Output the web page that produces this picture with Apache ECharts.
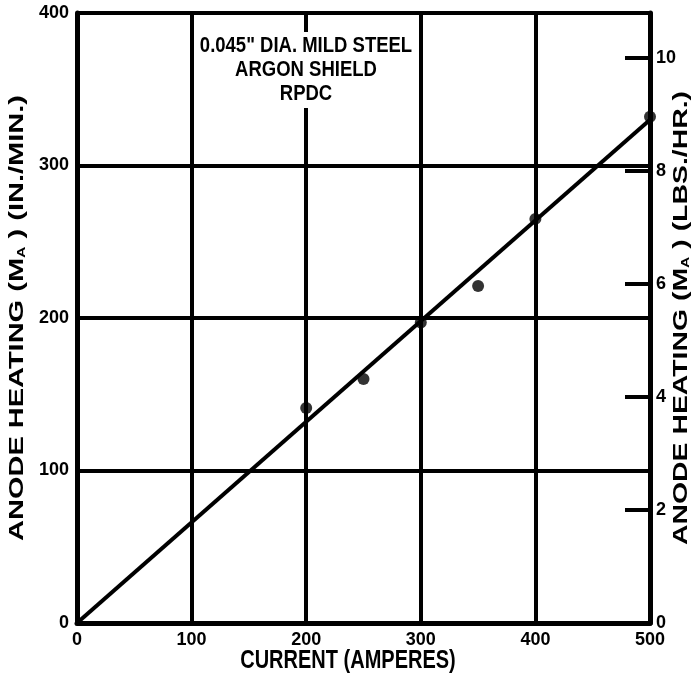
<!DOCTYPE html>
<html>
<head>
<meta charset="utf-8">
<script src="https://cdn.jsdelivr.net/npm/echarts@6/dist/echarts.min.js"></script>
<style>
  html, body { margin: 0; padding: 0; background: #fff; }
  #chart { width: 693px; height: 676px; }
</style>
</head>
<body>
<div id="chart"></div>
<script>
// Measured anode heating vs. welding current
const currentAmps = [200, 250, 300, 350, 400, 500];
const heatingInPerMin = [141, 160, 197, 221, 265, 332];

// Fitted straight line through the origin
const fitCurrent = [0, 500];
const fitHeating = [0, 330];

// Axis ticks
const xTicks = [0, 100, 200, 300, 400, 500];
const leftTicks = [0, 100, 200, 300, 400];
const rightTickMarks = [2, 4, 6, 8, 10];
const rightTickLabels = [0, 2, 4, 6, 8, 10];

// Axis titles and the note in the upper part of the plot
const xTitle = 'CURRENT (AMPERES)';
const leftTitle = 'ANODE HEATING (M{sub|A} ) (IN./MIN.)';
const rightTitle = 'ANODE HEATING (M{sub|A} ) (LBS./HR.)';
const noteLines = ['0.045" DIA. MILD STEEL', 'ARGON SHIELD', 'RPDC'];

const FONT = '"Liberation Sans", Arial, sans-serif';
const INK = '#000';

const W = 693, H = 676;
const GRID = { left: 77, right: 43, top: 13, bottom: 53 };
const plotTop = GRID.top, plotBottom = H - GRID.bottom;
const plotMidY = (plotTop + plotBottom) / 2;

const titleFont = { fontFamily: FONT, fontWeight: 'bold', fontSize: 20, fill: INK };
const subRich = { sub: { fontFamily: FONT, fontWeight: 'bold', fontSize: 11, fill: INK, padding: [10, 0, 0, 0] } };
const tickFont = { fontFamily: FONT, fontWeight: 'bold', fontSize: 18, color: INK };

const chart = echarts.init(document.getElementById('chart'), null, { renderer: 'canvas' });

const option = {
  backgroundColor: '#fff',
  animation: false,
  grid: Object.assign({ containLabel: false }, GRID),
  xAxis: {
    type: 'value',
    min: xTicks[0],
    max: xTicks[xTicks.length - 1],
    interval: 100,
    axisLine: { show: true, lineStyle: { color: INK, width: 5 } },
    axisTick: { show: false },
    axisLabel: Object.assign({ margin: 8 }, tickFont),
    splitLine: { show: true, lineStyle: { color: INK, width: 4 } }
  },
  yAxis: [
    {
      type: 'value',
      min: leftTicks[0],
      max: leftTicks[leftTicks.length - 1],
      interval: 100,
      position: 'left',
      axisLine: { show: true, lineStyle: { color: INK, width: 5 } },
      axisTick: { show: false },
      axisLabel: Object.assign({ margin: 8 }, tickFont),
      splitLine: { show: true, lineStyle: { color: INK, width: 4 } }
    },
    {
      type: 'value',
      min: 0,
      max: 10.8,
      position: 'right',
      axisLine: { show: true, lineStyle: { color: INK, width: 5 } },
      axisTick: {
        show: true, inside: true, length: 25,
        customValues: rightTickMarks,
        lineStyle: { color: INK, width: 4 }
      },
      axisLabel: Object.assign({ margin: 6, customValues: rightTickLabels }, tickFont),
      splitLine: { show: false }
    }
  ],
  series: [
    {
      type: 'line',
      yAxisIndex: 0,
      data: fitCurrent.map((c, i) => [c, fitHeating[i]]),
      symbol: 'none',
      lineStyle: { color: INK, width: 4 },
      z: 3
    },
    {
      type: 'scatter',
      yAxisIndex: 0,
      data: currentAmps.map((c, i) => [c, heatingInPerMin[i]]),
      symbol: 'circle',
      symbolSize: 12,
      itemStyle: { color: INK },
      z: 4
    }
  ],
  graphic: [
    // blank panel behind the note, interrupting the grid line
    {
      type: 'rect',
      shape: { x: 198, y: 32, width: 218, height: 76 },
      style: { fill: '#fff' },
      z: 10
    },
    {
      type: 'text',
      x: 306,
      y: 70,
      scaleY: 1.15,
      z: 11,
      style: {
        text: noteLines.join('\n'),
        fontFamily: FONT,
        fontWeight: 'bold',
        fontSize: 18.5,
        lineHeight: 21,
        align: 'center',
        verticalAlign: 'middle',
        fill: INK
      }
    },
    // axis titles
    {
      type: 'text',
      x: 348,
      y: 661,
      scaleY: 1.3,
      style: Object.assign({ text: xTitle, align: 'center', verticalAlign: 'middle' }, titleFont)
    },
    {
      type: 'text',
      x: 17,
      y: plotMidY,
      rotation: Math.PI / 2,
      scaleX: 1.45,
      style: Object.assign({ text: leftTitle, rich: subRich, align: 'center', verticalAlign: 'middle' }, titleFont)
    },
    {
      type: 'text',
      x: 681,
      y: plotMidY,
      rotation: Math.PI / 2,
      scaleX: 1.42,
      style: Object.assign({ text: rightTitle, rich: subRich, align: 'center', verticalAlign: 'middle' }, titleFont)
    }
  ]
};

chart.setOption(option);
</script>
</body>
</html>
